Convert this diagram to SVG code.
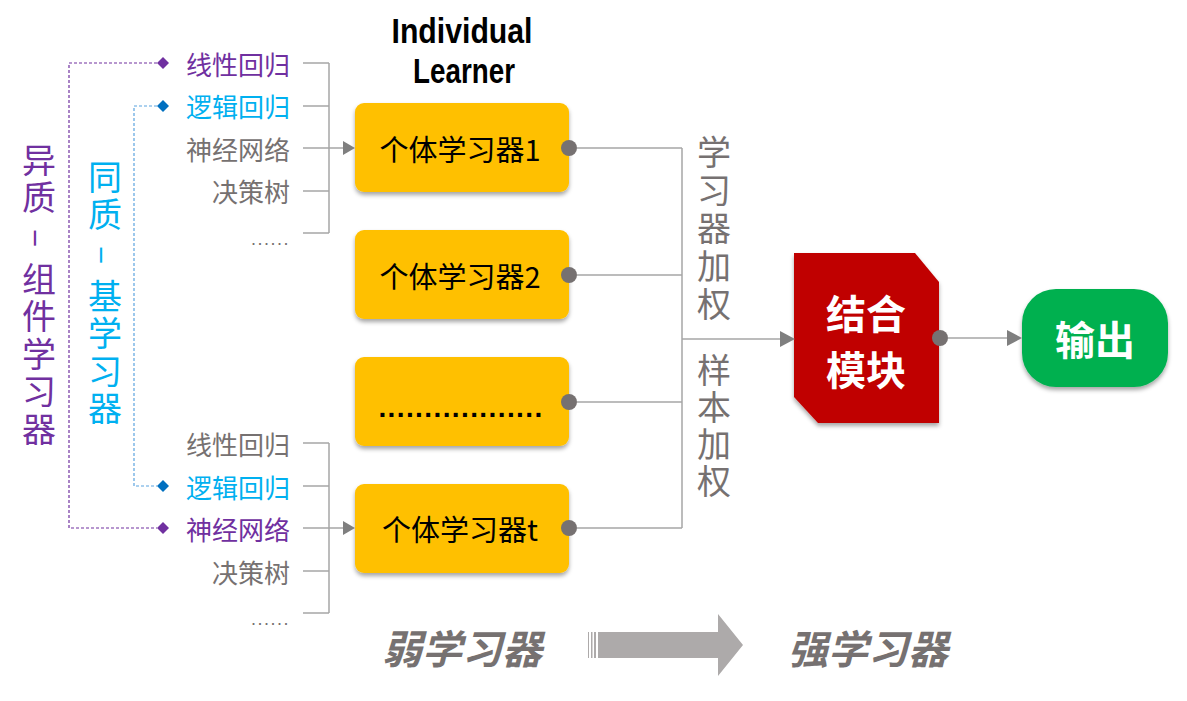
<svg xmlns="http://www.w3.org/2000/svg" width="1187" height="701" viewBox="0 0 1187 701">
  <defs>
    <style>
      .cjk { font-family: "Noto Sans CJK SC", "Noto Sans", sans-serif; dominant-baseline: central; }
      .grey { fill: #767171; }
      .purple { fill: #7030A0; }
      .blue { fill: #00B0F0; }
      .item { font-size: 26px; text-anchor: end; }
      .vert { font-family: "Noto Sans CJK SC", "Noto Sans", sans-serif; font-size: 34px; writing-mode: vertical-rl; letter-spacing: 3.5px; }
      .boxtxt { font-size: 29px; text-anchor: middle; fill: #000; }
      .big { font-size: 40px; font-weight: 700; text-anchor: middle; fill: #fff; }
      .bracket { stroke: #a6a6a6; stroke-width: 1.5; fill: none; }
      .link { stroke: #a6a6a6; stroke-width: 1.5; fill: none; }
      .dashP { stroke: #7030A0; stroke-width: 1.2; stroke-dasharray: 3 2; fill: none; }
      .dashB { stroke: #5BA3E0; stroke-width: 1.2; stroke-dasharray: 3 2; fill: none; }
      .learner { fill: #FFC000; }
      .port { fill: #767171; }
      .head { fill: #7f7f7f; }
      .dots { font-family: "Liberation Sans", sans-serif; font-size: 18px; fill: #767171; letter-spacing: 1.5px; text-anchor: end; }
      .phase { font-size: 40px; font-weight: 700; font-style: italic; text-anchor: middle; fill: #767171; }
    </style>
    <filter id="shadow" x="-10%" y="-10%" width="130%" height="140%">
      <feDropShadow dx="0" dy="3" stdDeviation="2" flood-color="#000" flood-opacity="0.35"/>
    </filter>
  </defs>

  <rect width="1187" height="701" fill="#fff"/>

  <!-- header -->
  <g id="header">
    <text x="462" y="43" font-family="Liberation Sans, sans-serif" font-size="35" font-weight="700" text-anchor="middle" textLength="141" lengthAdjust="spacingAndGlyphs">Individual</text>
    <text x="464" y="83" font-family="Liberation Sans, sans-serif" font-size="35" font-weight="700" text-anchor="middle" textLength="102" lengthAdjust="spacingAndGlyphs">Learner</text>
  </g>

  <!-- left vertical category labels -->
  <g id="hetero-label">
    <text class="vert purple" x="39" y="143">异质 – 组件学习器</text>
  </g>
  <g id="homo-label">
    <text class="vert blue" x="105" y="160">同质 – 基学习器</text>
  </g>

  <!-- algorithm lists -->
  <g id="list-top" class="cjk item">
    <text x="290" y="63" class="purple">线性回归</text>
    <text x="290" y="105" class="blue">逻辑回归</text>
    <text x="290" y="148" class="grey">神经网络</text>
    <text x="290" y="190" class="grey">决策树</text>
    <text x="290" y="239" class="dots">......</text>
  </g>
  <g id="list-bottom" class="cjk item">
    <text x="290" y="443" class="grey">线性回归</text>
    <text x="290" y="486" class="blue">逻辑回归</text>
    <text x="290" y="528" class="purple">神经网络</text>
    <text x="290" y="571" class="grey">决策树</text>
    <text x="290" y="619" class="dots">......</text>
  </g>

  <!-- learner boxes -->
  <g id="learner-1">
    <rect class="learner" x="355" y="103" width="214" height="89" rx="9" filter="url(#shadow)"/>
    <text class="cjk boxtxt" x="460" y="148">个体学习器1</text>
    <circle class="port" cx="569" cy="148" r="8"/>
  </g>
  <g id="learner-2">
    <rect class="learner" x="355" y="230" width="214" height="89" rx="9" filter="url(#shadow)"/>
    <text class="cjk boxtxt" x="460" y="275">个体学习器2</text>
    <circle class="port" cx="569" cy="275" r="8"/>
  </g>
  <g id="learner-more">
    <rect class="learner" x="355" y="357" width="214" height="89" rx="9" filter="url(#shadow)"/>
    <text x="461" y="417" font-family="Liberation Sans, sans-serif" font-size="28" font-weight="700" text-anchor="middle" letter-spacing="1.4">..................</text>
    <circle class="port" cx="569" cy="402" r="8"/>
  </g>
  <g id="learner-t">
    <rect class="learner" x="355" y="484" width="214" height="89" rx="9" filter="url(#shadow)"/>
    <text class="cjk boxtxt" x="460" y="528">个体学习器t</text>
    <circle class="port" cx="569" cy="528" r="8"/>
  </g>

  <!-- combination module -->
  <g id="combiner">
    <path d="M794 253 H915 L939 282 V423 H818 L794 397 Z" fill="#C00000" filter="url(#shadow)"/>
    <text class="cjk big" x="866" y="312">结合</text>
    <text class="cjk big" x="866" y="368">模块</text>
    <circle class="port" cx="940" cy="338" r="8"/>
  </g>

  <!-- output -->
  <g id="output">
    <rect x="1022" y="289" width="146" height="98" rx="34" fill="#00B050" filter="url(#shadow)"/>
    <text class="cjk big" x="1095" y="338">输出</text>
  </g>

  <!-- weighting labels -->
  <g id="weight-labels">
    <text class="vert grey" x="714" y="135" style="letter-spacing:4px">学习器加权</text>
    <text class="vert grey" x="714" y="353" style="letter-spacing:3px">样本加权</text>
  </g>

  <!-- connectors -->
  <g id="connectors">
    <!-- dashed grouping lines -->
    <polyline class="dashP" points="157,63 69,63 69,528 157,528"/>
    <polyline class="dashB" points="157,106 134,106 134,486 157,486"/>
    <path d="M163 57 L169 63 L163 69 L157 63 Z" fill="#7030A0"/>
    <path d="M163 100 L169 106 L163 112 L157 106 Z" fill="#0070C0"/>
    <path d="M163 480 L169 486 L163 492 L157 486 Z" fill="#0070C0"/>
    <path d="M163 522 L169 528 L163 534 L157 528 Z" fill="#7030A0"/>

    <!-- top bracket -->
    <path class="bracket" d="M303 63 H329 M303 106 H329 M303 148 H329 M303 191 H329 M303 233 H329 M329 63 V233 M329 148 H344"/>
    <path class="head" d="M355 148 L343 141 L343 155 Z"/>
    <!-- bottom bracket -->
    <path class="bracket" d="M303 443 H329 M303 486 H329 M303 528 H329 M303 571 H329 M303 613 H329 M329 443 V613 M329 528 H344"/>
    <path class="head" d="M355 528 L343 521 L343 535 Z"/>

    <!-- learners to combiner -->
    <path class="link" d="M577 148 H682 M577 275 H682 M577 402 H682 M577 528 H682 M682 148 V528"/>
    <path class="link" d="M682 339 H782" stroke="#8c8c8c"/>
    <path class="head" d="M795 339 L780 331 L780 347 Z"/>

    <!-- combiner to output -->
    <path class="link" d="M948 338 H1008" stroke="#8c8c8c"/>
    <path class="head" d="M1022 338 L1007 330 L1007 346 Z"/>
  </g>

  <!-- weak to strong -->
  <g id="progression">
    <text class="cjk phase" x="462" y="647">弱学习器</text>
    <g fill="#ADAAAA">
      <rect x="588" y="632" width="1" height="26"/>
      <rect x="591" y="632" width="1.5" height="26"/>
      <rect x="594" y="632" width="2" height="26"/>
      <path d="M598 632 H718 V614 L743 645 L718 676 V658 H598 Z"/>
    </g>
    <text class="cjk phase" x="868" y="647">强学习器</text>
  </g>
</svg>
